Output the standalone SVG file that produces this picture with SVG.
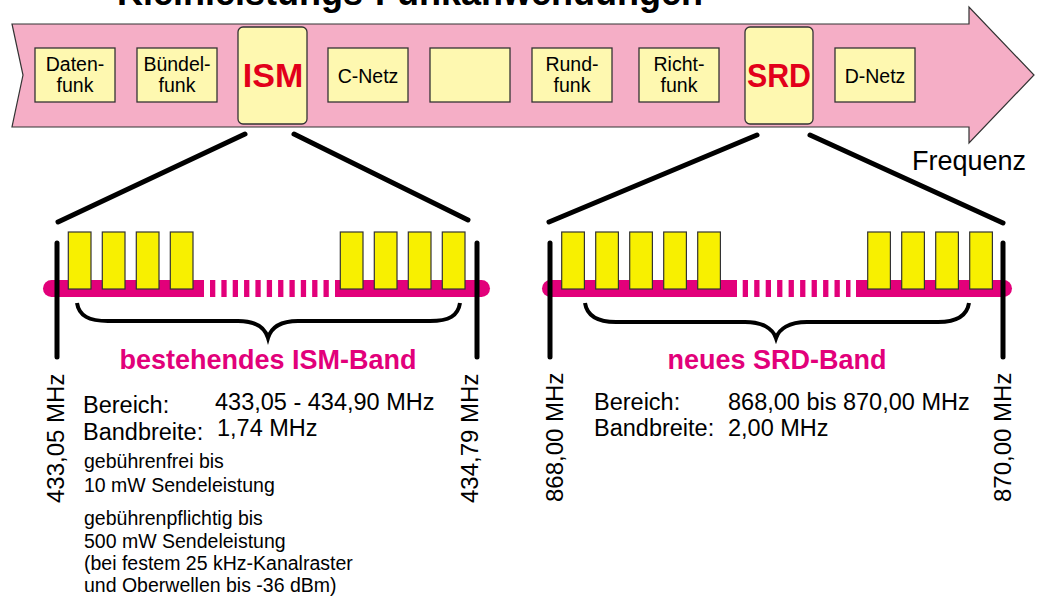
<svg xmlns="http://www.w3.org/2000/svg" width="1042" height="599" viewBox="0 0 1042 599">
<style>
text{font-family:"Liberation Sans",Arial,sans-serif;fill:#000}
.box{fill:#fef8b0;stroke:#333;stroke-width:1.3}
.bt{font-size:19.5px;text-anchor:middle}
.big{font-size:34px;font-weight:bold;fill:#e2001a;text-anchor:middle}
.thick{stroke:#000;stroke-width:5;stroke-linecap:round;fill:none}
.brace{stroke:#000;stroke-width:4;fill:none}
.bar{fill:#e2007a}
.ch{fill:#f8f000;stroke:#333;stroke-width:1.2}
.band{font-size:27px;font-weight:bold;fill:#e2007a;text-anchor:middle}
.freq{font-size:24px}
.info{font-size:23.5px}
.note{font-size:19.5px}
</style>
<g id="title"><text x="117" y="5" style="font-size:36px;font-weight:bold">Kleinleistungs-Funkanwendungen</text></g>
<g id="arrow">
<polygon points="12,24 969,24 969,7 1034,75 969,143 969,127 12,127 23,75" fill="#f5aec6" stroke="#333" stroke-width="1.2"/>
<text x="912" y="170" style="font-size:27px">Frequenz</text>
</g>
<g id="n-datenfunk"><rect class="box" x="35" y="48" width="80" height="54"/><text class="bt" x="75" y="71">Daten-</text><text class="bt" x="75" y="92">funk</text></g>
<g id="n-buendelfunk"><rect class="box" x="137" y="48" width="80" height="54"/><text class="bt" x="177" y="71">Bündel-</text><text class="bt" x="177" y="92">funk</text></g>
<g id="n-ism"><rect class="box" x="238" y="27" width="69" height="97" rx="5"/><text class="big" x="273" y="87">ISM</text></g>
<g id="n-cnetz"><rect class="box" x="328" y="48" width="80" height="54"/><text class="bt" x="368" y="83">C-Netz</text></g>
<g id="n-empty"><rect class="box" x="430" y="48" width="80" height="54"/></g>
<g id="n-rundfunk"><rect class="box" x="532" y="48" width="80" height="54"/><text class="bt" x="572" y="71">Rund-</text><text class="bt" x="572" y="92">funk</text></g>
<g id="n-richtfunk"><rect class="box" x="639" y="48" width="80" height="54"/><text class="bt" x="679" y="71">Richt-</text><text class="bt" x="679" y="92">funk</text></g>
<g id="n-srd"><rect class="box" x="745" y="27" width="68" height="97" rx="5"/><text class="big" x="779" y="87" textLength="64" lengthAdjust="spacingAndGlyphs">SRD</text></g>
<g id="n-dnetz"><rect class="box" x="835" y="48" width="80" height="54"/><text class="bt" x="875" y="83">D-Netz</text></g>
<g id="connectors">
<line class="thick" x1="245" y1="134" x2="58" y2="222"/>
<line class="thick" x1="294" y1="134" x2="468" y2="220"/>
<line class="thick" x1="757" y1="135" x2="549" y2="222"/>
<line class="thick" x1="810" y1="135" x2="1003" y2="223"/>
</g>
<g id="ism-band">
<path class="bar" d="M204,280 H51.5 A8.5,8.5 0 0 0 51.5,297 H204 Z"/>
<path class="bar" d="M335,280 H481.5 A8.5,8.5 0 0 1 481.5,297 H335 Z"/>
<g class="bar">
<rect x="210" y="280" width="5.3" height="17"/><rect x="221.35" y="280" width="5.3" height="17"/><rect x="232.7" y="280" width="5.3" height="17"/><rect x="244.05" y="280" width="5.3" height="17"/><rect x="255.4" y="280" width="5.3" height="17"/><rect x="266.75" y="280" width="5.3" height="17"/><rect x="278.1" y="280" width="5.3" height="17"/><rect x="289.45" y="280" width="5.3" height="17"/><rect x="300.8" y="280" width="5.3" height="17"/><rect x="312.15" y="280" width="5.3" height="17"/><rect x="323.5" y="280" width="5.3" height="17"/>
</g>
<rect class="ch" x="68.3" y="232" width="22.7" height="57"/><rect class="ch" x="102.3" y="232" width="22.7" height="57"/><rect class="ch" x="136.3" y="232" width="22.7" height="57"/><rect class="ch" x="170.3" y="232" width="22.7" height="57"/>
<rect class="ch" x="340.3" y="232" width="22.7" height="57"/><rect class="ch" x="374.3" y="232" width="22.7" height="57"/><rect class="ch" x="408.3" y="232" width="22.7" height="57"/><rect class="ch" x="442.3" y="232" width="22.7" height="57"/>
<line class="thick" x1="57" y1="243" x2="57" y2="357"/>
<line class="thick" x1="477" y1="243" x2="477" y2="357"/>
<path class="brace" d="M77,303 C79,316 89,321 108,321 L238,321 C256,321 265,328 268,338 C271,328 280,321 298,321 L430,321 C449,321 458,316 460,303"/>
<text class="band" x="268" y="369">bestehendes ISM-Band</text>
<text class="freq" transform="translate(64,503) rotate(-90)">433,05 MHz</text>
<text class="freq" transform="translate(478,503) rotate(-90)">434,79 MHz</text>
<text class="info" x="83" y="413">Bereich:</text>
<text class="info" x="83" y="440">Bandbreite:</text>
<text class="info" x="215" y="410">433,05 - 434,90 MHz</text>
<text class="info" x="217" y="436">1,74 MHz</text>
<text class="note" x="84" y="468">gebührenfrei bis</text>
<text class="note" x="84" y="492">10 mW Sendeleistung</text>
<text class="note" x="84" y="525">gebührenpflichtig bis</text>
<text class="note" x="84" y="548">500 mW Sendeleistung</text>
<text class="note" x="84" y="570">(bei festem 25 kHz-Kanalraster</text>
<text class="note" x="84" y="592">und Oberwellen bis -36 dBm)</text>
</g>
<g id="srd-band">
<path class="bar" d="M737,280 H550.5 A8.5,8.5 0 0 0 550.5,297 H737 Z"/>
<path class="bar" d="M856,280 H1003.5 A8.5,8.5 0 0 1 1003.5,297 H856 Z"/>
<g class="bar">
<rect x="742.7" y="280" width="5.3" height="17"/><rect x="754.2" y="280" width="5.3" height="17"/><rect x="765.7" y="280" width="5.3" height="17"/><rect x="777.1" y="280" width="5.3" height="17"/><rect x="788.6" y="280" width="5.3" height="17"/><rect x="800.1" y="280" width="5.3" height="17"/><rect x="811.6" y="280" width="5.3" height="17"/><rect x="823.1" y="280" width="5.3" height="17"/><rect x="834.5" y="280" width="5.3" height="17"/><rect x="846" y="280" width="4.5" height="17"/>
</g>
<rect class="ch" x="561.7" y="232" width="22.7" height="57"/><rect class="ch" x="595.7" y="232" width="22.7" height="57"/><rect class="ch" x="629.7" y="232" width="22.7" height="57"/><rect class="ch" x="663.7" y="232" width="22.7" height="57"/><rect class="ch" x="697.7" y="232" width="22.7" height="57"/>
<rect class="ch" x="867.7" y="232" width="22.7" height="57"/><rect class="ch" x="901.7" y="232" width="22.7" height="57"/><rect class="ch" x="935.7" y="232" width="22.7" height="57"/><rect class="ch" x="969.7" y="232" width="22.7" height="57"/>
<line class="thick" x1="550" y1="243" x2="550" y2="357"/>
<line class="thick" x1="1003" y1="243" x2="1003" y2="357"/>
<path class="brace" d="M585,303 C587,316 597,322 616,322 L745,322 C763,322 773,329 776,338 C779,329 789,322 807,322 L938,322 C957,322 967,316 969,303"/>
<text class="band" x="777" y="369">neues SRD-Band</text>
<text class="freq" transform="translate(563,502) rotate(-90)">868,00 MHz</text>
<text class="freq" transform="translate(1011,502) rotate(-90)">870,00 MHz</text>
<text class="info" x="594" y="410">Bereich:</text>
<text class="info" x="594" y="436">Bandbreite:</text>
<text class="info" x="728" y="410">868,00 bis 870,00 MHz</text>
<text class="info" x="728" y="436">2,00 MHz</text>
</g>
</svg>
